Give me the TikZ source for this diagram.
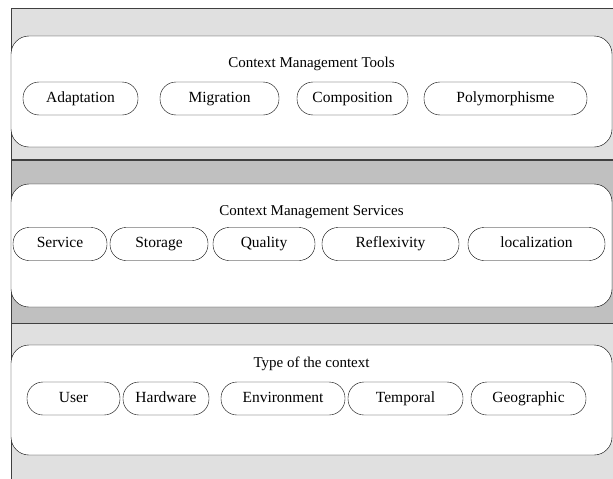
\documentclass[tikz,border=0pt]{standalone}
\usepackage{fontspec}
\setmainfont{Liberation Serif}
\usetikzlibrary{positioning}

\definecolor{bandlight}{HTML}{E0E0E0}
\definecolor{banddark}{HTML}{C0C0C0}
\definecolor{bandline}{HTML}{404040}

\begin{document}
\begin{tikzpicture}[x=1pt,y=-1pt,
    layer/.style={draw,fill=white,rounded corners=18pt,minimum width=601pt,inner sep=0pt},
    title/.style={font=\fontsize{15}{18}\selectfont,text height=10pt,text depth=3.5pt},
    pill/.style={draw,fill=white,rounded corners=16pt,minimum height=33pt,inner sep=0pt,
        text height=10.5pt,text depth=3.5pt,font=\fontsize{15.5}{18}\selectfont}]

                \useasboundingbox (0,0) rectangle (613,479);

                % bands
                \fill[bandlight] (11,8) rectangle (613,160);
                \fill[banddark] (11,160) rectangle (613,323);
                \fill[bandlight] (11,323) rectangle (613,479);
                \draw[bandline,line width=0.8pt] (613,8) -- (11,8) -- (11,479);
                \draw[bandline,line width=2pt] (11,160) -- (613,160);
                \draw[bandline,line width=0.8pt] (11,323) -- (613,323);

                % tools layer
                \node[layer,minimum height=111pt] (tools) at (311.5,91.5) {};
                \node[title] (toolsT) at (311.5,64) {Context Management Tools};
                \node[pill,minimum width=115pt] (adapt) at (80.5,98.5) {Adaptation};
                \node[pill,minimum width=119pt] (migr) at (219.5,98.5) {Migration};
                \node[pill,minimum width=111pt] (comp) at (352.5,98.5) {Composition};
                \node[pill,minimum width=163pt] (poly) at (505.5,98.5) {Polymorphisme};

                % services layer
                \node[layer,minimum height=123pt] (serv) at (311.5,245.5) {};
                \node[title] (servT) at (311.5,212) {Context Management Services};
                \node[pill,minimum width=94pt] (service) at (60,244) {Service};
                \node[pill,minimum width=98pt] (stor) at (159,244) {Storage};
                \node[pill,minimum width=102pt] (qual) at (264,244) {Quality};
                \node[pill,minimum width=137pt] (refl) at (390.5,244) {Reflexivity};
                \node[pill,minimum width=137pt] (local) at (536.5,244) {localization};

                % context layer
                \node[layer,minimum height=110pt] (ctx) at (311.5,400) {};
                \node[title] (ctxT) at (311.5,364) {Type of the context};
                \node[pill,minimum width=93pt] (user) at (73.5,398.5) {User};
                \node[pill,minimum width=86pt] (hard) at (166,398.5) {Hardware};
                \node[pill,minimum width=124pt] (env) at (283,398.5) {Environment};
                \node[pill,minimum width=115pt] (temp) at (405.5,398.5) {Temporal};
                \node[pill,minimum width=115pt] (geo) at (528.5,398.5) {Geographic};

            \end{tikzpicture}
\end{document}
